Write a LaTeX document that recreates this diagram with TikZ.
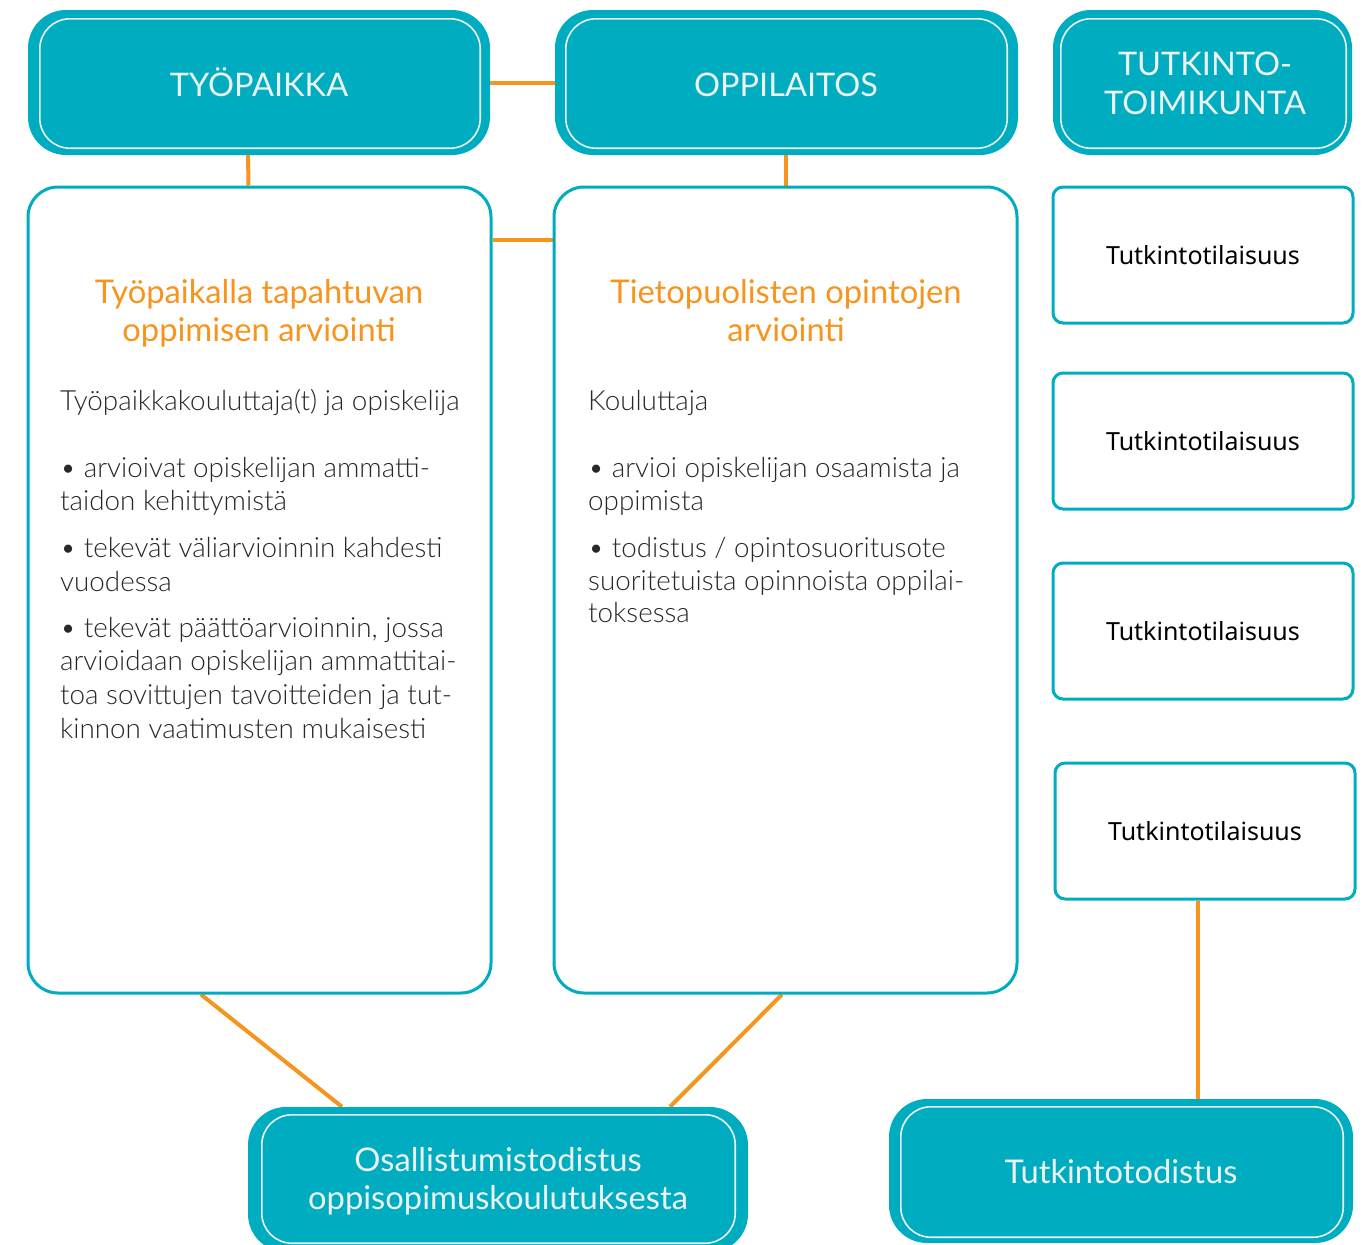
\documentclass[tikz,border=0pt]{standalone}
\usepackage{fontspec}
\setmainfont{Lato}
\newfontfamily\latolight{Lato Light}
\newfontfamily\segoe{Noto Sans}
\usetikzlibrary{backgrounds}
\definecolor{teal1}{RGB}{0,172,191}
\definecolor{orng}{RGB}{247,148,29}
\definecolor{txt}{RGB}{40,40,40}
\definecolor{offwhite}{RGB}{236,242,242}
\begin{document}
\begin{tikzpicture}[x=1pt,y=-1pt,
  headbox/.style={rectangle, fill=teal1, draw=none, rounded corners=38pt, inner sep=0pt},
  innerline/.style={draw=offwhite, line width=1.6pt, rounded corners=30pt},
  panel/.style={rectangle, draw=teal1, line width=3pt, fill=white, rounded corners=30pt, inner sep=0pt},
  slot/.style={rectangle, draw=teal1, line width=3pt, fill=white, rounded corners=10pt, inner sep=0pt,
     minimum width=300pt, minimum height=136pt, font=\segoe\fontsize{25}{30}\selectfont, text=black},
  link/.style={draw=orng, line width=4pt},
  headtxt/.style={anchor=base, inner sep=0pt, text=offwhite, font=\fontsize{32.5}{39}\selectfont},
  certtxt/.style={anchor=base, inner sep=0pt, text=offwhite, font=\fontsize{32.7}{38}\selectfont},
  ortxt/.style={anchor=base, inner sep=0pt, text=orng, font=\fontsize{32.7}{38}\selectfont},
  bodytxt/.style={anchor=base west, inner sep=0pt, text=txt, font=\latolight\fontsize{27.8}{34}\selectfont}
]
\useasboundingbox (0,0) rectangle (1363,1245);

% top boxes
\node[headbox, minimum width=462pt, minimum height=145pt] (typ) at (259,82.5) {};
\draw[innerline] ([shift={(12,9)}]typ.north west) rectangle ([shift={(-10,-7)}]typ.south east);
\node[headtxt] (typt) at (259,96) {TYÖPAIKKA};

\node[headbox, minimum width=463pt, minimum height=145pt] (opp) at (786.5,82.5) {};
\draw[innerline] ([shift={(11,9)}]opp.north west) rectangle ([shift={(-11,-7)}]opp.south east);
\node[headtxt] (oppt) at (786,96) {OPPILAITOS};

\node[headbox, minimum width=299pt, minimum height=145pt] (tt) at (1202.5,82.5) {};
\draw[innerline] ([shift={(8,9)}]tt.north west) rectangle ([shift={(-6,-7)}]tt.south east);
\node[headtxt] (tt1) at (1205,75) {TUTKINTO-};
\node[headtxt] (tt2) at (1205,114) {TOIMIKUNTA};

% panels
\node[panel, minimum width=463pt, minimum height=806pt] (lp) at (259.5,590) {};
\node[panel, minimum width=463pt, minimum height=806pt] (mp) at (785.5,590) {};

% slots
\node[slot] (s1) at (1203,255) {Tutkintotilaisuus};
\node[slot] (s2) at (1203,441) {Tutkintotilaisuus};
\node[slot] (s3) at (1203,631) {Tutkintotilaisuus};
\node[slot] (s4) at (1205,831) {Tutkintotilaisuus};

% bottom boxes
\node[headbox, minimum width=500pt, minimum height=145pt] (osal) at (498,1179.5) {};
\draw[innerline] ([shift={(14,8)}]osal.north west) rectangle ([shift={(-13,-9)}]osal.south east);
\node[certtxt] (osal1) at (498,1171) {Osallistumistodistus};
\node[certtxt] (osal2) at (498,1209) {oppisopimuskoulutuksesta};

\node[headbox, minimum width=464pt, minimum height=144pt] (tdist) at (1121,1171) {};
\draw[innerline] ([shift={(12,8)}]tdist.north west) rectangle ([shift={(-10,-6)}]tdist.south east);
\node[certtxt] (tdt) at (1121,1183) {Tutkintotodistus};

% panel texts
\node[ortxt] (lh1) at (259,303) {Työpaikalla tapahtuvan};
\node[ortxt] (lh2) at (259,341) {oppimisen arviointi};
\node[bodytxt] (lb0) at (60,410) {Työpaikkakouluttaja(t) ja opiskelija};
\node[bodytxt] (lb1) at (60,477) {• arvioivat opiskelijan ammatti-};
\node[bodytxt] (lb2) at (60,510) {taidon kehittymistä};
\node[bodytxt] (lb3) at (60,557) {• tekevät väliarvioinnin kahdesti};
\node[bodytxt] (lb4) at (60,591) {vuodessa};
\node[bodytxt] (lb5) at (60,637) {• tekevät päättöarvioinnin, jossa};
\node[bodytxt] (lb6) at (60,670) {arvioidaan opiskelijan ammattitai-};
\node[bodytxt] (lb7) at (60,704) {toa sovittujen tavoitteiden ja tut-};
\node[bodytxt] (lb8) at (60,738) {kinnon vaatimusten mukaisesti};

\node[ortxt] (mh1) at (786,303) {Tietopuolisten opintojen};
\node[ortxt] (mh2) at (786,341) {arviointi};
\node[bodytxt] (mb0) at (588,410) {Kouluttaja};
\node[bodytxt] (mb1) at (588,477) {• arvioi opiskelijan osaamista ja};
\node[bodytxt] (mb2) at (588,510) {oppimista};
\node[bodytxt] (mb3) at (588,557) {• todistus / opintosuoritusote};
\node[bodytxt] (mb4) at (588,590) {suoritetuista opinnoista oppilai-};
\node[bodytxt] (mb5) at (588,622) {toksessa};

% connectors
\begin{pgfonlayer}{background}
\draw[link] (typ.east) -- (opp.west);
\draw[link] ([xshift=-11pt]typ.south) -- ([xshift=-11pt]lp.north);
\draw[link] ([xshift=-1pt]opp.south) -- (mp.north);
\draw[link] ([yshift=-54pt]lp.north east) -- ([yshift=-54pt]mp.north west);
\draw[link] ([xshift=-58.5pt]lp.south) -- ([xshift=-156pt]osal.north);
\draw[link] ([xshift=-3.5pt]mp.south) -- ([xshift=172pt]osal.north);
\draw[link] ([xshift=-7pt]s4.south) -- ([xshift=77pt]tdist.north);
\end{pgfonlayer}
\end{tikzpicture}
\end{document}
